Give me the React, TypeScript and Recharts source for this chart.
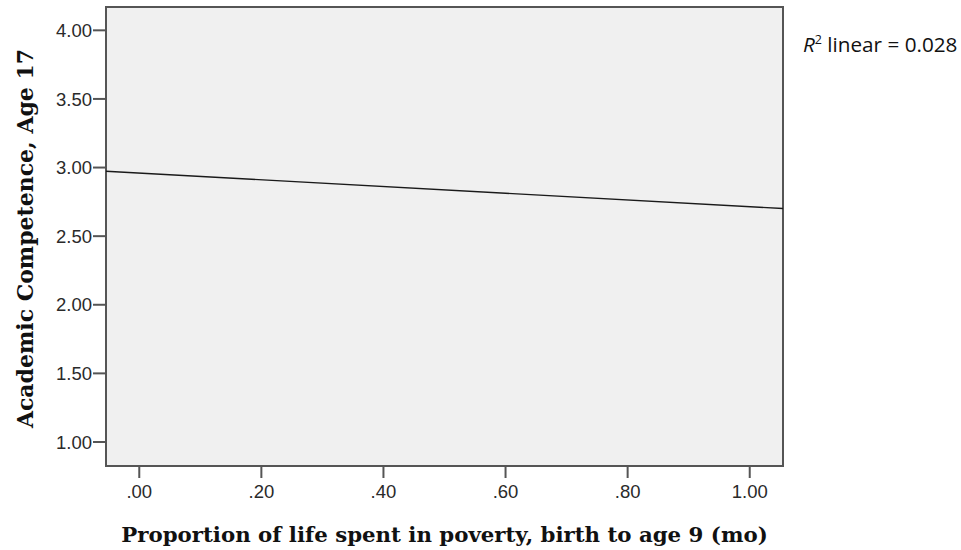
import React from 'react'
import { ComposedChart, Line, XAxis, YAxis, ReferenceArea, Label } from 'recharts'

// fitted line at the plot edges
const fitLine = [
  { poverty: -0.0545, competence: 2.973 },
  { poverty: 1.0545, competence: 2.701 },
]
const xTicks = [0, 0.2, 0.4, 0.6, 0.8, 1.0]
const yTicks = [1, 1.5, 2, 2.5, 3, 3.5, 4]
const xDomain: [number, number] = [-0.0545, 1.0545]
const yDomain: [number, number] = [0.825, 4.17]
const xTitle = 'Proportion of life spent in poverty, birth to age 9 (mo)'
const yTitle = 'Academic Competence, Age 17'
const rSquared = '0.028'

const tickStyle = { fontFamily: 'Liberation Sans, Arial, sans-serif', fontSize: 18.5, fill: '#2a2a2a' }
const titleFont = 'DejaVu Serif, serif'

const fmtX = (v: number) => (v < 1 ? v.toFixed(2).replace(/^0/, '') : v.toFixed(2))
const fmtY = (v: number) => v.toFixed(2)

export default function App() {
  return (
    <div style={{ position: 'absolute', left: 0, top: 0, width: 961, height: 550, background: '#fff' }}>
      <ComposedChart
        width={961}
        height={550}
        data={fitLine}
        margin={{ top: 7, right: 178, bottom: 0, left: 0 }}
      >
        <XAxis
          type="number"
          dataKey="poverty"
          domain={xDomain}
          ticks={xTicks}
          allowDataOverflow
          tickFormatter={fmtX}
          height={84}
          axisLine={false}
          tickSize={12}
          tickMargin={7}
          tickLine={{ stroke: '#555', strokeWidth: 2 }}
          tick={tickStyle}
        >
          <Label
            content={({ viewBox }: any) => (
              <text
                x={viewBox.x + viewBox.width / 2}
                y={viewBox.y + viewBox.height - 8}
                textAnchor="middle"
                fontFamily={titleFont}
                fontWeight="bold"
                fontSize={21.3}
                fill="#111"
              >
                {xTitle}
              </text>
            )}
          />
        </XAxis>
        <YAxis
          type="number"
          domain={yDomain}
          ticks={yTicks}
          allowDataOverflow
          tickFormatter={fmtY}
          width={106}
          axisLine={false}
          tickSize={13}
          tickMargin={1}
          tickLine={{ stroke: '#555', strokeWidth: 2 }}
          tick={tickStyle}
        >
          <Label
            content={({ viewBox }: any) => {
              const cx = 33
              const cy = viewBox.y + viewBox.height / 2 + 2
              return (
                <text
                  x={cx}
                  y={cy}
                  transform={`rotate(-90 ${cx} ${cy})`}
                  textAnchor="middle"
                  fontFamily={titleFont}
                  fontWeight="bold"
                  fontSize={22}
                  fill="#111"
                >
                  {yTitle}
                </text>
              )
            }}
          />
        </YAxis>
        <ReferenceArea
          x1={xDomain[0]}
          x2={xDomain[1]}
          y1={yDomain[0]}
          y2={yDomain[1]}
          fill="#f0f0f0"
          fillOpacity={1}
          stroke="#555"
          strokeWidth={2}
        />
        <Line
          type="linear"
          dataKey="competence"
          stroke="#1a1a1a"
          strokeWidth={1.4}
          dot={false}
          isAnimationActive={false}
        />
      </ComposedChart>
      <div
        style={{
          position: 'absolute',
          left: 803,
          top: 31,
          lineHeight: '26px',
          fontFamily: 'Open Sans, sans-serif',
          fontSize: 20.7,
          color: '#111',
          whiteSpace: 'nowrap',
        }}
      >
        <i>R</i>
        <sup style={{ fontSize: 12.5, lineHeight: 0 }}>2</sup> linear = {rSquared}
      </div>
    </div>
  )
}
